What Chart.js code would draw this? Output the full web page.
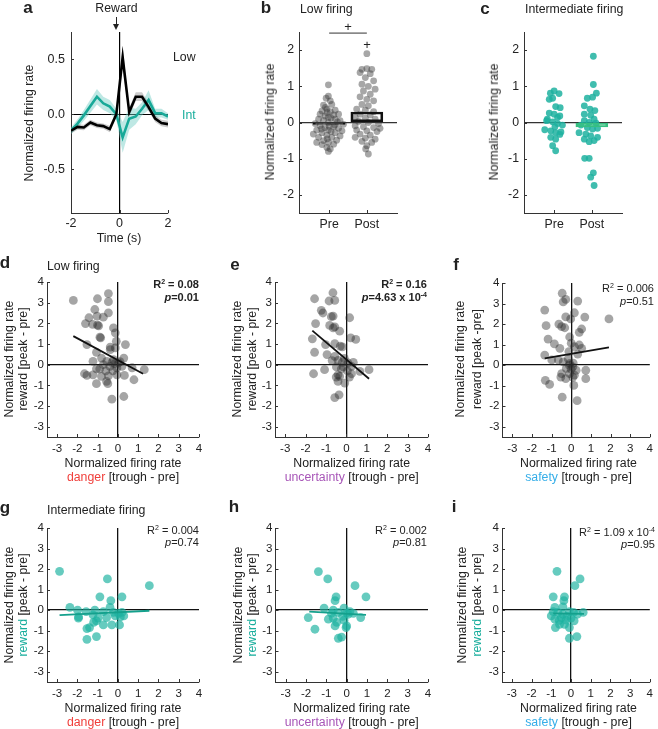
<!DOCTYPE html>
<html><head><meta charset="utf-8">
<script src="https://cdn.jsdelivr.net/npm/chart.js@4.4.1/dist/chart.umd.min.js"></script>
<style>
body{margin:0;background:#fff;}
#wrap{position:relative;width:658px;height:729px;overflow:hidden;font-family:"Liberation Sans",Arial,sans-serif;color:#222;}
canvas{position:absolute;left:0;top:0;}
.t{position:absolute;white-space:nowrap;font-size:12.3px;line-height:1;}
.c{transform:translate(-50%,-50%);}
.l{transform:translate(0,-50%);}
.rt{transform:translate(-100%,-50%);}
.v{transform:translate(-50%,-50%) rotate(-90deg);}
.L{font-weight:bold;font-size:17px;}
.an{font-size:11px;}
.b{font-weight:bold;}
sup{font-size:7px;vertical-align:4px;line-height:0;}
</style></head><body><div id="wrap"></div>
<script>
// ---------- DATA ----------
// Panel a: peri-reward time course (normalized firing rate)
const TIME_S   = [-2,-1.73,-1.47,-1.2,-0.93,-0.67,-0.4,-0.13,0.13,0.4,0.67,0.93,1.2,1.47,1.73,2];
const LOW_MEAN = [-0.15,-0.115,-0.12,-0.075,-0.1,-0.108,-0.135,0,0.52,0.02,0.16,0.16,0.065,-0.04,-0.08,-0.09];
const LOW_SEM  = [0.025,0.025,0.025,0.025,0.025,0.025,0.03,0.03,0.1,0.04,0.04,0.04,0.035,0.03,0.03,0.03];
const INT_MEAN = [-0.15,-0.085,-0.01,0.075,0.16,0.1,0.07,0,-0.21,-0.04,-0.02,0.05,0.13,0.01,0.01,-0.02];
const INT_SEM  = [0.03,0.04,0.05,0.06,0.07,0.06,0.06,0.05,0.14,0.1,0.07,0.06,0.09,0.04,0.04,0.03];

// Panels b, c: Pre / Post
const CATS = ["Pre","Post"];
const PRE_B_Y  = [1.04,0.73,0.67,0.6,0.48,0.5,0.37,0.34,0.32,0.3,0.23,0.23,0.18,0.21,0.14,0.09,0.06,0.09,0.05,-0.03,0,-0.05,-0.09,-0.14,-0.12,-0.16,-0.21,-0.21,-0.23,-0.28,-0.28,-0.32,-0.35,-0.37,-0.41,-0.41,-0.5,-0.49,-0.55,-0.55,-0.6,-0.61,-0.69,-0.73,-0.8,0.12,-0.07,-0.18,0.27,-0.25,0.42,-0.45,0.02,-0.1];
const PRE_B_DX = [-0.02,-0.02,-0.08,0.03,-0.15,0.07,-0.06,0.16,-0.19,0.03,-0.24,0.25,-0.11,0.12,-0.02,-0.28,-0.15,0.16,0.29,-0.37,-0.02,0.38,-0.24,-0.11,0.12,0.25,-0.33,-0.02,0.34,-0.19,0.16,-0.42,-0.06,0.29,-0.28,0.07,-0.15,0.2,-0.33,-0.02,0.12,-0.19,-0.06,0.03,-0.02,0.05,0.15,-0.2,-0.05,0.05,-0.1,-0.05,0.22,0.0];
const POST_B_Y  = [1.9,1.47,1.49,1.47,1.38,1.35,1.24,1.15,1.06,1.0,0.92,0.87,0.78,0.71,0.64,0.6,0.5,0.46,0.37,0.34,0.3,0.23,0.21,0.14,0.12,0.09,0.03,0,-0.03,-0.09,-0.12,-0.14,-0.16,-0.21,-0.23,-0.25,-0.32,-0.35,-0.41,-0.43,-0.46,-0.52,-0.55,-0.64,-0.73,-0.87];
const POST_B_DX = [0,-0.13,0,0.13,-0.18,0.09,-0.04,0.18,-0.13,0.04,0.22,-0.09,0.09,-0.18,0,0.18,-0.13,0.04,-0.27,-0.04,0.18,-0.18,0.09,-0.31,-0.04,0.22,-0.22,0.04,0.31,-0.31,-0.09,0.18,0.35,-0.27,0,0.27,-0.18,0.09,-0.31,-0.04,0.22,-0.13,0.13,0,-0.03,0.04];
const MEAN_B = [-0.055, 0.29];
const SIG_Y = 2.47;
const PRE_C_Y  = [0.87,0.8,0.81,0.64,0.67,0.44,0.41,0.26,0.23,0.14,0.09,0.02,-0.03,-0.07,-0.2,-0.23,-0.28,-0.26,-0.41,-0.46,-0.64,-0.78,0.18,-0.12,-0.33,0.05];
const PRE_C_DX = [0,0.13,-0.1,-0.13,-0.04,0.04,0.16,-0.13,0,0.09,-0.18,-0.04,0.09,0.22,-0.25,-0.09,0.04,0.18,-0.09,0.04,-0.04,0.04,0.15,0.02,0.15,-0.2];
const POST_C_Y  = [1.83,1.05,0.81,0.67,0.7,0.46,0.37,0.33,0.23,0.2,0.09,0.05,0,-0.02,-0.07,-0.14,-0.18,-0.16,-0.28,-0.32,-0.37,-0.41,-0.46,-0.53,-0.5,-0.99,-0.99,-1.39,-1.51,-1.74];
const POST_C_DX = [0.04,0.04,0.12,-0.12,0.02,-0.2,-0.05,0.08,-0.2,-0.03,0.06,-0.2,-0.07,0.11,-0.29,-0.12,0.02,0.15,-0.34,-0.16,-0.03,0.15,-0.2,-0.07,0.06,-0.19,-0.07,0.04,-0.03,0.06];
const MEAN_C = [0.0, -0.12];

// Panels d-i: reward (peak - pre) vs trough - pre
const D_X = [-2.2,-0.47,-0.47,-1.01,-1.14,-0.47,-1.43,-1.03,-0.72,-1.6,-1.25,-1.01,-0.95,-0.22,-0.13,-0.89,-0.85,-0.08,-1.53,-0.38,0.37,-0.13,-1.06,-0.38,0.29,-1.23,-0.81,-0.55,-0.22,0.03,-0.72,-0.4,-0.05,0.2,-0.9,-1.06,1.3,-1.65,-1.53,-1.23,-0.81,-0.47,-0.56,-1.06,-0.5,-0.05,0.32,0.79,-0.3,0.29,0.7,-0.3,-0.15,0.1,-0.6,-0.25];
const D_Y = [3.11,3.44,3.05,3.19,2.67,2.51,2.27,2.35,2.3,1.99,1.95,1.91,1.88,1.78,1.54,1.33,1.3,1.13,0.97,0.85,0.97,0.81,0.6,0.73,0.32,0.16,0.32,0.16,0.24,0.08,0,-0.08,-0.16,-0.08,-0.21,-0.2,-0.24,-0.44,-0.52,-0.49,-0.57,-0.54,-0.81,-0.92,-0.92,-0.49,-0.52,-0.73,-1.67,-1.54,-0.15,0.1,0.05,0.15,-0.3,-0.3];
const E_X = [-0.66,-1.56,-0.85,-0.57,-1.23,-1.15,-0.74,-0.65,0.16,-1.51,-0.82,-0.57,-0.65,-0.33,-1.67,-1.02,-0.57,0.21,0.46,-0.2,-0.3,-1.56,-0.95,-0.57,-0.41,-0.2,0.08,0.34,0.25,-0.16,-0.49,-1.07,-1.61,-0.41,-0.33,0.25,0.66,1.11,-0.41,-0.08,-0.57,-0.36,-0.5,0.05,-0.25,0.15,-0.7,-0.1];
const E_Y = [3.48,3.19,3.08,3.11,2.63,2.5,2.32,2.35,2.27,1.99,1.9,1.83,1.78,1.62,1.25,0.97,1.02,1.3,1.22,0.86,0.9,0.6,0.49,0.4,0.21,0.11,0.08,0.11,-0.08,-0.11,-0.11,-0.24,-0.44,-0.49,-0.57,-0.44,-0.32,-0.24,-0.81,-0.89,-1.59,-1.46,-0.6,-0.3,-0.2,-0.6,0.2,0.3];
const F_X = [-0.46,-0.28,-0.41,0.33,-1.35,0.16,-0.28,-0.03,0.69,1.92,-1.28,-0.63,-0.49,0.53,0.41,-0.33,-0.08,-1.18,-0.86,0,-0.58,0.16,0.41,0.53,-0.12,0.33,-1.35,-0.66,-0.99,-0.41,-0.08,0.08,-0.25,0.25,-0.49,-0.08,0.16,0.74,-1.32,-1.1,-0.53,-0.28,0.08,0.74,0.13,-0.46,0.3,-0.15,0,-0.1,0.1];
const F_Y = [3.5,3.2,3.08,3.12,2.68,2.55,2.35,2.25,2.34,2.25,1.92,2.0,1.88,1.76,1.6,1.82,1.37,1.27,1.04,1.07,0.82,0.9,0.98,0.82,0.66,0.54,0.49,0.25,0.25,0.16,0.08,-0.08,-0.16,-0.25,-0.41,-0.41,-0.49,-0.25,-0.74,-0.94,-0.58,-0.66,-0.58,-0.66,-0.99,-1.56,-1.73,0.3,-0.2,0,0.1];
const G_X = [-2.88,-0.52,1.55,-0.89,0.2,-0.35,-2.37,-1.99,-1.57,-1.14,-0.72,-0.39,-0.22,0.03,0.2,-1.94,-1.95,-1.23,-0.98,-0.56,-0.13,0.12,0.29,-1.06,-1.2,-1.4,-1.53,-0.72,-0.3,0.08,-1.06,-1.53];
const G_Y = [1.89,1.52,1.19,0.65,0.65,0.46,0.13,0,-0.07,0,-0.07,0.13,-0.11,-0.16,-0.11,-0.33,-0.39,-0.23,-0.39,-0.36,-0.28,-0.33,-0.28,-0.52,-0.6,-0.85,-0.9,-0.72,-0.72,-0.72,-1.29,-1.42];
const H_X = [-1.39,-0.93,0.41,0.95,-0.52,-0.57,-1.11,-0.66,-0.13,0.16,0.33,0.08,-0.41,-1.89,-0.9,-0.66,-0.49,-0.13,0.69,-0.57,0,-1.56,-0.03,-0.41,-0.25,-0.2,0,-0.75];
const H_Y = [1.88,1.52,1.19,0.65,0.65,0.46,0.1,0,0.1,-0.07,-0.16,-0.2,-0.11,-0.36,-0.44,-0.39,-0.6,-0.49,-0.36,-0.77,-0.77,-0.93,-0.85,-1.37,-1.31,-0.3,-0.15,-0.15];
const I_X = [-0.71,0.46,0.2,-0.9,-0.33,-0.36,-0.82,-0.41,-0.9,-0.66,-0.41,-0.08,0.13,0.33,0.62,-1.0,-0.82,-0.49,-0.25,0,-0.79,-0.58,-0.33,-0.08,0.16,-0.08,0.3,-0.6,-0.2];
const I_Y = [1.89,1.52,1.19,0.65,0.65,0.46,0.13,0.16,-0.07,-0.11,-0.2,-0.07,-0.11,-0.2,-0.11,-0.28,-0.44,-0.36,-0.49,-0.39,-0.85,-0.69,-0.69,-0.85,-0.52,-1.37,-1.29,-0.5,-0.3];
// regression line end points [x0,y0,x1,y1]
const FIT_D = [-2.2,1.38,1.24,-0.44];
const FIT_E = [-1.67,1.65,1.11,-0.68];
const FIT_F = [-1.35,0.33,1.92,0.87];
const FIT_G = [-2.88,-0.24,1.55,-0.03];
const FIT_H = [-1.84,-0.07,0.95,-0.23];
const FIT_I = [-0.9,-0.16,0.66,-0.18];
const SCAT_TICKS = [-3,-2,-1,0,1,2,3,4];
const BC_TICKS = [-2,-1,0,1,2];
const A_YTICKS = [-0.5,0,0.5];
const A_XTICKS = [-2,0,2];

// ---------- RENDER ----------
const W = 658, H = 729;
const YBOX = 40, XBOX = 30;
const wrap = document.getElementById('wrap');
Chart.defaults.font.family = '"Liberation Sans", Arial, sans-serif';
Chart.defaults.color = '#222';

const inwardTicks = {
  id: 'inwardTicks',
  afterDraw(chart) {
    const {ctx, chartArea: ca} = chart;
    const xs = chart.scales.x, ys = chart.scales.y;
    ctx.save();
    ctx.strokeStyle = '#333'; ctx.lineWidth = 1;
    ctx.beginPath();
    xs.ticks.forEach(t => { const p = Math.round(xs.getPixelForValue(t.value)) + 0.5; ctx.moveTo(p, ca.bottom); ctx.lineTo(p, ca.bottom - 3); });
    ys.ticks.forEach(t => { const p = Math.round(ys.getPixelForValue(t.value)) + 0.5; ctx.moveTo(ca.left, p); ctx.lineTo(ca.left + 3, p); });
    ctx.stroke();
    ctx.restore();
  }
};

function mk(area, datasets, xopt, yopt) {
  const cv = document.createElement('canvas');
  cv.width = W; cv.height = H;
  cv.style.width = W + 'px'; cv.style.height = H + 'px';
  wrap.appendChild(cv);
  const zeroGrid = (col, lw) => ({
    drawTicks: false, offset: false,
    color: c => (c.tick && c.tick.value === 0) ? col : 'rgba(0,0,0,0)',
    lineWidth: lw
  });
  const x = Object.assign({
    type: 'linear', offset: false, afterFit: s => { s.height = XBOX; },
    border: {display: true, color: '#333', width: 1},
    grid: zeroGrid(xopt.zc || '#111', xopt.zw || 1.3)
  }, xopt.s);
  const y = Object.assign({
    type: 'linear', offset: false, afterFit: s => { s.width = YBOX; },
    border: {display: true, color: '#333', width: 1},
    grid: zeroGrid(yopt.zc || '#111', yopt.zw || 1.3)
  }, yopt.s);
  return new Chart(cv, {
    type: 'scatter',
    data: {datasets},
    options: {
      responsive: false, animation: false, devicePixelRatio: 1, events: [],
      layout: {padding: {left: area.l - YBOX, top: area.t, right: W - area.r, bottom: H - area.b - XBOX}},
      plugins: {legend: {display: false}, tooltip: {enabled: false}},
      scales: {x, y}
    },
    plugins: [inwardTicks]
  });
}
const fixedTicks = arr => s => { s.ticks = arr.map(v => ({value: v})); };

// Panel a
(function () {
  const pts = arr => arr.map((v, i) => ({x: TIME_S[i], y: v}));
  const up = (m, s) => m.map((v, i) => v + s[i]);
  const lo = (m, s) => m.map((v, i) => v - s[i]);
  const band = (d, col, fill) => ({type: 'line', data: pts(d), borderWidth: 0, pointRadius: 0, backgroundColor: col, fill: fill, order: 5});
  mk({l: 71, r: 168, t: 32, b: 213}, [
    Object.assign(band(up(INT_MEAN, INT_SEM), 'rgba(110,205,195,0.45)', '+1'), {order: 6}),
    Object.assign(band(lo(INT_MEAN, INT_SEM), 'rgba(0,0,0,0)', false), {order: 6}),
    band(up(LOW_MEAN, LOW_SEM), 'rgba(0,0,0,0.2)', '+1'),
    band(lo(LOW_MEAN, LOW_SEM), 'rgba(0,0,0,0)', false),
    {type: 'line', data: pts(INT_MEAN), borderColor: '#17a998', borderWidth: 2.6, pointRadius: 0, fill: false, order: 2},
    {type: 'line', data: pts(LOW_MEAN), borderColor: '#000', borderWidth: 2.6, pointRadius: 0, fill: false, order: 1}
  ], {zw: 1.2, zc: '#000', s: {min: -2, max: 2, afterBuildTicks: fixedTicks(A_XTICKS),
      ticks: {padding: 3, font: {size: 12.5}, maxRotation: 0, autoSkip: false, callback: v => String(v)}}},
     {zw: 1, zc: '#000', s: {min: -0.9, max: 0.75, afterBuildTicks: fixedTicks(A_YTICKS),
      ticks: {padding: 6, font: {size: 12.5}, autoSkip: false, callback: v => v.toFixed(1)}}});
})();

// Panels b, c
function prepost(area, preY, preDX, postY, postDX, means, dotCol, r, barCol, sig) {
  const ds = [
    {data: preY.map((v, i) => ({x: 1 + preDX[i], y: v})), backgroundColor: dotCol, pointRadius: r, pointBorderWidth: 0, order: 3},
    {data: postY.map((v, i) => ({x: 2 + postDX[i], y: v})), backgroundColor: dotCol, pointRadius: r, pointBorderWidth: 0, order: 3},
    {type: 'bar', data: means.map((v, i) => ({x: i + 1, y: v})), barThickness: 32, borderWidth: 2, borderColor: barCol,
     backgroundColor: 'rgba(0,0,0,0)', borderSkipped: false, order: 1}
  ];
  if (sig) ds.push({type: 'line', data: [{x: 1, y: SIG_Y}, {x: 2, y: SIG_Y}], borderColor: '#333', borderWidth: 1, pointRadius: 0, fill: false, order: 0});
  mk(area, ds,
     {s: {min: 0.2, max: 2.8, afterBuildTicks: fixedTicks([1, 2]), grid: {drawTicks: false, display: false, offset: false},
      ticks: {padding: 4, font: {size: 12.3}, maxRotation: 0, autoSkip: false, callback: v => CATS[v - 1]}}},
     {zc: '#333', zw: 1.3, s: {min: -2.5, max: 2.5, afterBuildTicks: fixedTicks(BC_TICKS),
      ticks: {padding: 5, font: {size: 12.3}, autoSkip: false, callback: v => String(v)}}});
}
prepost({l: 299, r: 397, t: 32, b: 213}, PRE_B_Y, PRE_B_DX, POST_B_Y, POST_B_DX, MEAN_B, 'rgba(60,60,60,0.45)', 3.4, '#111', true);
prepost({l: 524, r: 622, t: 32, b: 213}, PRE_C_Y, PRE_C_DX, POST_C_Y, POST_C_DX, MEAN_C, 'rgba(30,178,160,0.85)', 3.4, '#36c080', false);

// Panels d-i
function scat(area, X, Y, fit, dotCol, fitCol) {
  mk(area, [
    {data: X.map((v, i) => ({x: v, y: Y[i]})), backgroundColor: dotCol, pointRadius: 4.4, pointBorderWidth: 0, order: 2},
    {type: 'line', data: [{x: fit[0], y: fit[1]}, {x: fit[2], y: fit[3]}], borderColor: fitCol, borderWidth: 1.8, pointRadius: 0, fill: false, order: 1}
  ],
  {s: {min: -3.5, max: 4, afterBuildTicks: fixedTicks(SCAT_TICKS),
    ticks: {padding: 5, font: {size: 11.5}, maxRotation: 0, autoSkip: false, callback: v => String(v)}}},
  {s: {min: -3.5, max: 4, afterBuildTicks: fixedTicks(SCAT_TICKS),
    ticks: {padding: 3, font: {size: 11.5}, autoSkip: false, callback: v => String(v)}}});
}
const GRAY = 'rgba(40,40,40,0.42)', TEAL = 'rgba(30,178,160,0.68)';
scat({l: 47, r: 199, t: 282, b: 437}, D_X, D_Y, FIT_D, GRAY, '#111');
scat({l: 275, r: 428, t: 282, b: 437}, E_X, E_Y, FIT_E, GRAY, '#111');
scat({l: 502.5, r: 654, t: 283, b: 437}, F_X, F_Y, FIT_F, GRAY, '#111');
scat({l: 47, r: 199, t: 528, b: 682}, G_X, G_Y, FIT_G, TEAL, '#14a08c');
scat({l: 275.5, r: 428, t: 528, b: 682}, H_X, H_Y, FIT_H, TEAL, '#14a08c');
scat({l: 502, r: 654, t: 528, b: 682}, I_X, I_Y, FIT_I, TEAL, '#14a08c');

// ---------- TEXT ----------
function txt(html, x, y, cls, style) {
  const d = document.createElement('div');
  d.className = 't ' + cls;
  d.style.left = x + 'px'; d.style.top = y + 'px';
  if (style) d.style.cssText += style;
  d.innerHTML = html;
  wrap.appendChild(d);
}
const RED = '#f0403c', PURPLE = '#a856b8', BLUE = '#36aee8', TEALT = '#17ad9c';
// panel letters
[['a', 28, 7], ['b', 266, 7], ['c', 485, 7.5], ['d', 5, 262], ['e', 235, 264], ['f', 456, 264], ['g', 5, 507], ['h', 234, 506], ['i', 454, 506]]
  .forEach(p => txt(p[0], p[1], p[2], 'c L'));
// titles
txt('Low firing', 300, 8.5, 'l');
txt('Intermediate firing', 525, 8.5, 'l');
txt('Low firing', 47, 265.5, 'l');
txt('Intermediate firing', 47, 509.5, 'l');
// panel a extras
txt('Reward', 116.5, 8, 'c');
txt('', 116, 17, '', 'width:1px;height:8px;background:#222;');
txt('', 113, 24, '', 'width:0;height:0;border-left:3.5px solid transparent;border-right:3.5px solid transparent;border-top:6px solid #222;');
txt('Low', 173, 57, 'l');
txt('Int', 182, 115, 'l', 'color:' + TEALT + ';');
txt('Normalized firing rate', 29, 123, 'v');
txt('Time (s)', 119, 238, 'c');
// b, c
txt('Normalized firing rate', 269.5, 122, 'v');
txt('Normalized firing rate', 494, 122, 'v');
txt('+', 348, 26, 'c', 'font-size:13px;');
txt('+', 367, 44, 'c', 'font-size:13px;');
// scatter axis titles
const NFR = 'Normalized firing rate';
function ytitles(x1, x2, cy, second) { txt(NFR, x1, cy, 'v'); txt(second, x2, cy, 'v'); }
ytitles(8.5, 22.5, 359, 'reward [peak - pre]');
ytitles(237, 252, 359, 'reward [peak - pre]');
ytitles(460, 477, 359, 'reward [peak -pre]');
const rw = '<span style="color:' + TEALT + '">reward</span> [peak - pre]';
ytitles(8.5, 22.5, 605, rw);
ytitles(238, 252, 605, rw);
ytitles(462, 477, 605, rw);
function xtitles(cx, y1, y2, word, col) { txt(NFR, cx, y1, 'c'); txt('<span style="color:' + col + '">' + word + '</span> [trough - pre]', cx, y2, 'c'); }
xtitles(123, 463, 477, 'danger', RED);
xtitles(351.7, 463, 477, 'uncertainty', PURPLE);
xtitles(578.5, 463, 477, 'safety', BLUE);
xtitles(123, 708, 722, 'danger', RED);
xtitles(351.7, 708, 722, 'uncertainty', PURPLE);
xtitles(578.5, 708, 722, 'safety', BLUE);
// stats
function stats(rx, y1, y2, r2, p, bold) {
  const c = 'rt an' + (bold ? ' b' : '');
  txt('R<sup>2</sup> = ' + r2, rx, y1, c);
  txt('<i>p</i>=' + p, rx, y2, c);
}
stats(199, 284, 297, '0.08', '0.01', true);
stats(427, 284, 297, '0.16', '4.63 x 10<sup>-4</sup>', true);
stats(654, 288, 301, '0.006', '0.51', false);
stats(199, 530, 542, '0.004', '0.74', false);
stats(427, 530, 542, '0.002', '0.81', false);
stats(655, 532, 544, '1.09 x 10<sup>-4</sup>', '0.95', false);
</script></body></html>
